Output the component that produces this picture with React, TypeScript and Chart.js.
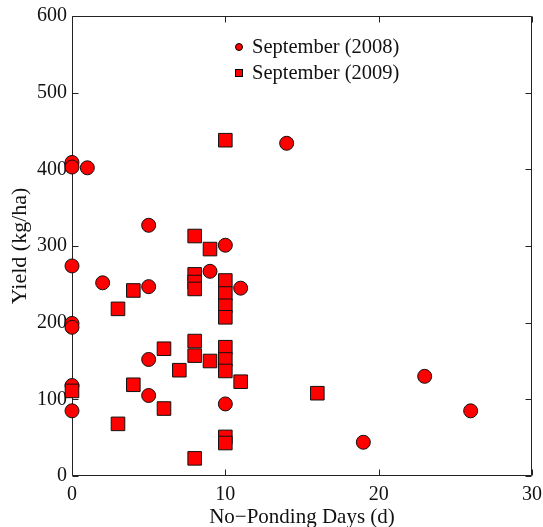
import React, { useEffect, useRef } from "react";
import Chart from "chart.js/auto";

const days2008 = [0, 0, 1, 0, 0, 0, 0, 0, 2, 5, 5, 5, 5, 9, 10, 11, 10, 14, 19, 23, 26];
const yield2008 = [409, 403, 402, 274, 199, 194, 118, 85, 252, 327, 247, 152, 105, 267, 301, 245, 94, 434, 44, 130, 85];

const days2009 = [0, 3, 3, 4, 4, 6, 6, 7, 8, 8, 8, 8, 8, 8, 8, 9, 9, 10, 10, 10, 10, 10, 10, 10, 10, 10, 10, 11, 16];
const yield2009 = [111, 68, 218, 242, 119, 166, 88, 138, 176, 157, 23, 313, 263, 253, 244, 296, 150, 438, 255, 238, 222, 207, 168, 152, 137, 51, 43, 123, 108];

const seriesLabels = ["September (2008)", "September (2009)"];
const xTitle = "No\u2212Ponding Days (d)";
const yTitle = "Yield (kg/ha)";

const FONT = "'Liberation Serif', 'Times New Roman', serif";
const INK = "#111";

export default function App() {
  const ref = useRef<HTMLCanvasElement | null>(null);

  useEffect(() => {
    const canvas = ref.current;
    if (!canvas) return;

    const framePlugin = {
      id: "frame",
      beforeDatasetsDraw(chart: any) {
        const { ctx, chartArea } = chart;
        const { left, right, top, bottom } = chartArea;
        const xs = chart.scales.x;
        const ys = chart.scales.y;
        ctx.save();
        ctx.strokeStyle = "#222";
        ctx.lineWidth = 1;
        ctx.beginPath();
        const L = Math.round(left) + 0.5;
        const R = Math.round(right) - 0.5;
        const T = Math.round(top) + 0.5;
        const B = Math.round(bottom) - 0.5;
        ctx.rect(L, T, R - L, B - T);
        const tl = 6;
        for (const t of xs.ticks) {
          const px = Math.round(xs.getPixelForValue(t.value)) + 0.5;
          ctx.moveTo(px, B);
          ctx.lineTo(px, B - tl);
          ctx.moveTo(px, T);
          ctx.lineTo(px, T + tl);
        }
        for (const t of ys.ticks) {
          const py = Math.round(ys.getPixelForValue(t.value)) + 0.5;
          ctx.moveTo(L, py);
          ctx.lineTo(L + tl, py);
          ctx.moveTo(R, py);
          ctx.lineTo(R - tl, py);
        }
        ctx.stroke();
        ctx.restore();
      },
      afterDraw(chart: any) {
        const { ctx, chartArea } = chart;
        ctx.save();
        ctx.fillStyle = INK;
        ctx.textAlign = "center";
        ctx.textBaseline = "middle";
        // x title
        ctx.font = `21px ${FONT}`;
        ctx.fillText(xTitle, (chartArea.left + chartArea.right) / 2, 517);
        // y title
        ctx.font = `22px ${FONT}`;
        ctx.save();
        ctx.translate(20, (chartArea.top + chartArea.bottom) / 2);
        ctx.rotate(-Math.PI / 2);
        ctx.fillText(yTitle, 0, 0);
        ctx.restore();
        // legend
        ctx.font = `20.5px ${FONT}`;
        const lx = 239;
        const rows = [47, 73];
        ctx.textAlign = "left";
        ctx.strokeStyle = "#000";
        ctx.lineWidth = 1;
        ctx.fillStyle = "#ff0000";
        ctx.beginPath();
        ctx.arc(lx, rows[0], 3.5, 0, Math.PI * 2);
        ctx.fill();
        ctx.stroke();
        ctx.fillRect(lx - 3.5, rows[1] - 3.5, 7, 7);
        ctx.strokeRect(lx - 3.5, rows[1] - 3.5, 7, 7);
        ctx.fillStyle = INK;
        ctx.fillText(seriesLabels[0], 252, rows[0] + 1);
        ctx.fillText(seriesLabels[1], 252, rows[1] + 1);
        ctx.restore();
      },
    };

    const chart = new Chart(canvas, {
      type: "scatter",
      data: {
        datasets: [
          {
            label: seriesLabels[0],
            data: days2008.map((d, i) => ({ x: d, y: yield2008[i] })),
            pointStyle: "circle",
            pointRadius: 7,
            pointHoverRadius: 7,
            backgroundColor: "#ff0000",
            borderColor: "#111",
            borderWidth: 1,
            clip: false,
            order: 1,
          },
          {
            label: seriesLabels[1],
            data: days2009.map((d, i) => ({ x: d, y: yield2009[i] })),
            pointStyle: "rect",
            pointRadius: 9.6,
            pointHoverRadius: 9.6,
            backgroundColor: "#ff0000",
            borderColor: "#111",
            borderWidth: 1,
            clip: false,
            order: 0,
          },
        ],
      },
      options: {
        animation: false,
        responsive: false,
        devicePixelRatio: 1,
        events: [],
        layout: { padding: { top: 16, right: 11, left: 0, bottom: 0 } },
        plugins: {
          legend: { display: false },
          tooltip: { enabled: false },
        },
        scales: {
          x: {
            type: "linear",
            min: 0,
            max: 30,
            ticks: {
              stepSize: 10,
              color: INK,
              font: { family: FONT, size: 20 },
              padding: 7,
              maxRotation: 0,
            },
            grid: { display: false, drawTicks: false },
            border: { display: false },
            afterFit: (s: any) => {
              s.height = 51;
              s.paddingLeft = 0;
              s.paddingRight = 0;
            },
          },
          y: {
            type: "linear",
            min: 0,
            max: 600,
            ticks: {
              stepSize: 100,
              color: INK,
              font: { family: FONT, size: 20 },
              padding: 5,
            },
            grid: { display: false, drawTicks: false },
            border: { display: false },
            afterFit: (s: any) => {
              s.width = 72;
              s.paddingTop = 0;
              s.paddingBottom = 0;
            },
          },
        },
      },
      plugins: [framePlugin],
    });

    return () => chart.destroy();
  }, []);

  return (
    <div style={{ position: "absolute", left: 0, top: 0, width: 543, height: 527, background: "#fff" }}>
      <canvas ref={ref} width={543} height={527} style={{ display: "block" }} />
    </div>
  );
}
